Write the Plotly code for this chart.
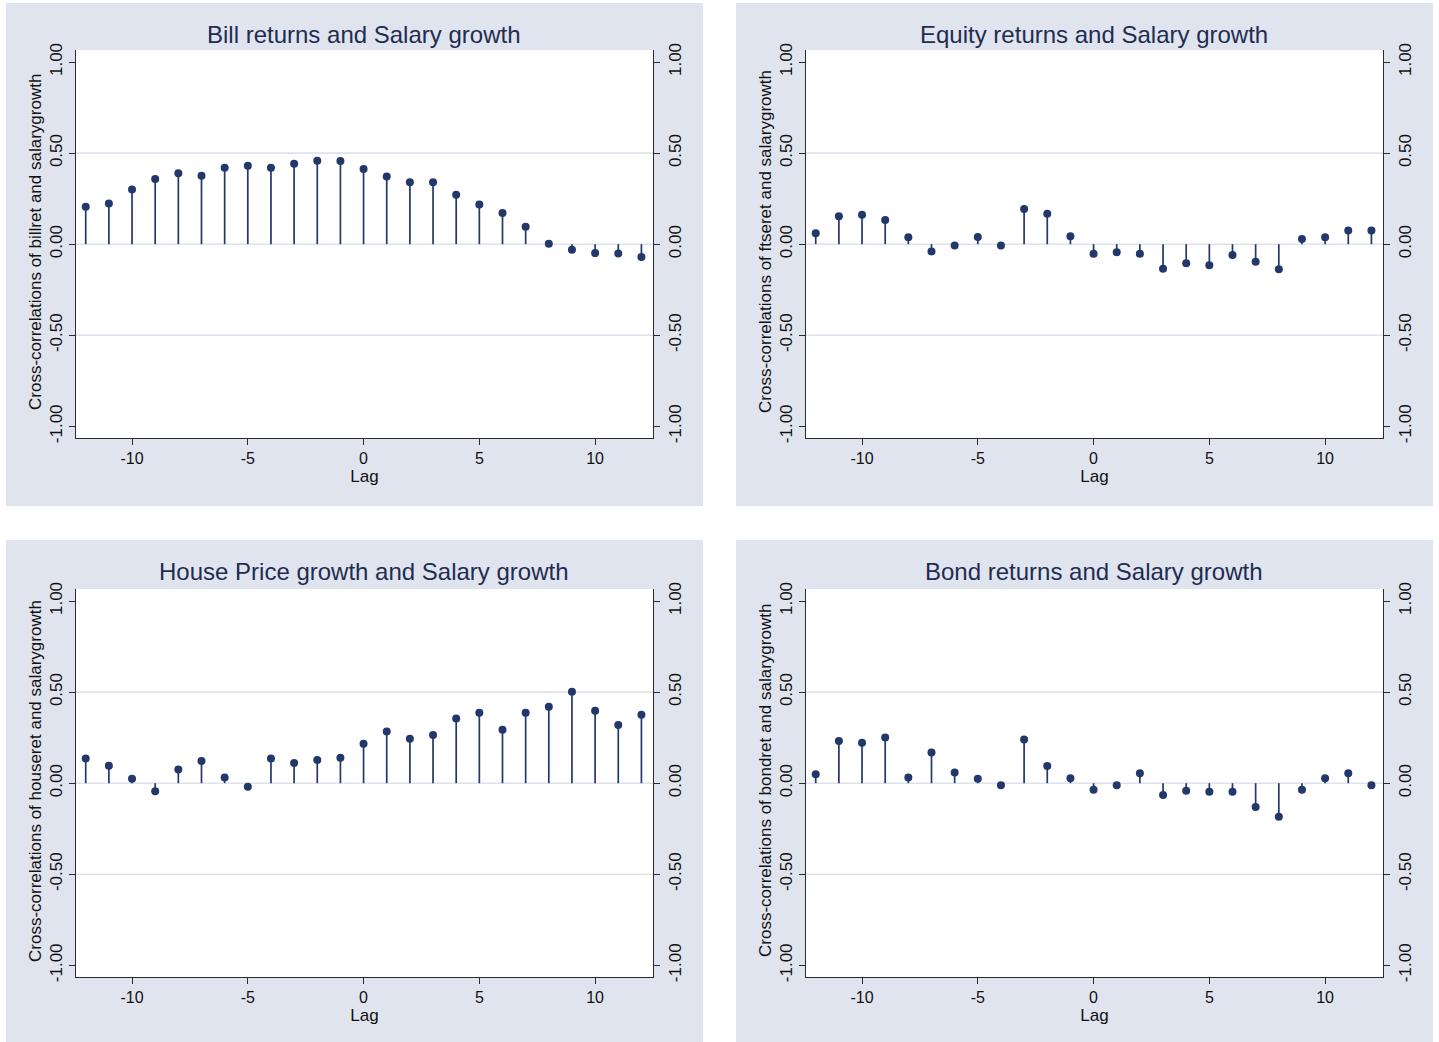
import plotly.graph_objects as go

# Cross-correlation lags
lags = list(range(-12, 13))

# Cross-correlations with salary growth, lag -12 .. 12
bill_corr = [0.205, 0.224, 0.300, 0.358, 0.389, 0.376, 0.420, 0.431, 0.420, 0.442,
             0.458, 0.456, 0.413, 0.371, 0.340, 0.340, 0.271, 0.218, 0.171, 0.096,
             0.002, -0.031, -0.049, -0.051, -0.071]
equity_corr = [0.060, 0.153, 0.162, 0.133, 0.038, -0.040, -0.007, 0.040, -0.007, 0.193,
               0.167, 0.044, -0.053, -0.044, -0.053, -0.135, -0.104, -0.116, -0.060, -0.096,
               -0.138, 0.029, 0.038, 0.075, 0.075]
house_corr = [0.135, 0.096, 0.024, -0.044, 0.075, 0.122, 0.031, -0.020, 0.136, 0.111,
              0.127, 0.140, 0.216, 0.284, 0.244, 0.265, 0.355, 0.387, 0.293, 0.387,
              0.420, 0.502, 0.398, 0.320, 0.376]
bond_corr = [0.049, 0.231, 0.222, 0.251, 0.031, 0.169, 0.058, 0.025, -0.011, 0.240,
             0.095, 0.027, -0.036, -0.011, 0.055, -0.065, -0.042, -0.047, -0.047, -0.131,
             -0.184, -0.036, 0.027, 0.055, -0.011]

panel_titles = ["Bill returns and Salary growth", "Equity returns and Salary growth",
                "House Price growth and Salary growth", "Bond returns and Salary growth"]
y_titles = ["Cross-correlations of billret and salarygrowth",
            "Cross-correlations of ftseret and salarygrowth",
            "Cross-correlations of houseret and salarygrowth",
            "Cross-correlations of bondret and salarygrowth"]
series = [bill_corr, equity_corr, house_corr, bond_corr]

y_ticks = [-1.0, -0.5, 0.0, 0.5, 1.0]
y_ticktext = ["-1.00", "-0.50", "0.00", "0.50", "1.00"]
x_ticks = [-10, -5, 0, 5, 10]
x_ticktext = ["-10", "-5", "0", "5", "10"]
grid_vals = [-0.5, 0.0, 0.5]

W, H = 1439, 1042
NAVY = "#22386a"
AXIS = "#2b2b2b"
PANEL_BG = "#e0e4ef"
GRID = "#dde2ee"
TXT = "#1f2d4f"
FONT = "Liberation Sans, Arial, sans-serif"


def px_x(x):
    return x / W


def px_y(y):
    return 1 - y / H


# panel boxes (pixels): background rect and plot area
panels = [
    dict(bg=(6, 3, 703, 506), plot=(76, 50, 653, 438)),
    dict(bg=(736, 3, 1433, 506), plot=(806, 50, 1383, 438)),
    dict(bg=(6, 540, 703, 1042), plot=(76, 589, 653, 977)),
    dict(bg=(736, 540, 1433, 1042), plot=(806, 589, 1383, 977)),
]

fig = go.Figure()
layout = dict(
    width=W, height=H,
    margin=dict(l=0, r=0, t=0, b=0, pad=0, autoexpand=False),
    paper_bgcolor="white", plot_bgcolor="white",
    showlegend=False,
    font=dict(family=FONT, size=16, color="#111"),
    shapes=[], annotations=[],
)

for i, (vals, title, ytitle, pnl) in enumerate(zip(series, panel_titles, y_titles, panels)):
    n = i + 1
    xa = f"x{n}" if n > 1 else "x"
    yl_idx = 2 * i + 1
    yr_idx = 2 * i + 2
    yl = f"y{yl_idx}" if yl_idx > 1 else "y"
    yr = f"y{yr_idx}"

    bx0, by0, bx1, by1 = pnl["bg"]
    px0, py0, px1, py1 = pnl["plot"]

    # graph region tint, then the white plot region on top of it
    layout["shapes"].append(dict(
        type="rect", xref="paper", yref="paper", layer="below",
        x0=px_x(bx0), x1=px_x(bx1), y0=px_y(by1), y1=px_y(by0),
        fillcolor=PANEL_BG, line=dict(width=0)))
    layout["shapes"].append(dict(
        type="rect", xref=f"{xa} domain", yref=f"{yl} domain", layer="below",
        x0=0, x1=1, y0=0, y1=1, fillcolor="white", line=dict(width=0)))

    for g in grid_vals:
        layout["shapes"].append(dict(
            type="line", xref=f"{xa} domain", yref=yl, layer="below",
            x0=0, x1=1, y0=g, y1=g, line=dict(color=GRID, width=1.6)))

    xkey = "xaxis" if n == 1 else f"xaxis{n}"
    ylkey = "yaxis" if yl_idx == 1 else f"yaxis{yl_idx}"
    yrkey = f"yaxis{yr_idx}"

    layout[xkey] = dict(
        domain=[px_x(px0), px_x(px1)], anchor=yl, range=[-12.42, 12.5],
        tickvals=x_ticks, ticktext=x_ticktext, ticks="outside", ticklen=6, tickcolor=AXIS,
        showline=True, linecolor=AXIS, linewidth=1.2, showgrid=False, zeroline=False,
        tickfont=dict(size=16, color="#111"), automargin=False,
        title=dict(text="Lag", font=dict(size=17, color="#111"), standoff=0),
    )
    common_y = dict(
        domain=[px_y(py1), px_y(py0)], anchor=xa, range=[-1.064, 1.066],
        tickvals=y_ticks, ticktext=y_ticktext, tickangle=-90,
        ticks="outside", ticklen=6, tickcolor=AXIS,
        showline=True, linecolor=AXIS, linewidth=1.2, showgrid=False, zeroline=False,
        tickfont=dict(size=17, color="#111"), automargin=False,
    )
    layout[ylkey] = dict(common_y, side="left")
    layout[yrkey] = dict(common_y, side="right", overlaying=yl)

    layout["annotations"].append(dict(
        text=title, xref="paper", yref="paper", showarrow=False,
        x=px_x((px0 + px1) / 2 - 1), y=px_y(by0 + 31),
        yanchor="middle", xanchor="center",
        font=dict(size=24, color=TXT, family=FONT)))
    layout["annotations"].append(dict(
        text=ytitle, xref="paper", yref="paper", showarrow=False, textangle=-90,
        x=px_x(px0 - 41), y=px_y((py0 + py1) / 2 - 2), xanchor="center", yanchor="middle",
        font=dict(size=17, color="#111", family=FONT)))

    # stems from zero to each correlation
    sx, sy = [], []
    for lag, v in zip(lags, vals):
        sx += [lag, lag, None]
        sy += [0, v, None]
    fig.add_trace(go.Scatter(x=sx, y=sy, mode="lines", xaxis=xa, yaxis=yl,
                             line=dict(color=NAVY, width=1.7), hoverinfo="skip"))
    fig.add_trace(go.Scatter(x=lags, y=vals, mode="markers", xaxis=xa, yaxis=yl,
                             marker=dict(color=NAVY, size=8)))
    # mirror scale on the right-hand side
    fig.add_trace(go.Scatter(x=lags, y=vals, mode="markers", xaxis=xa, yaxis=yr,
                             marker=dict(opacity=0), hoverinfo="skip"))

fig.update_layout(**layout)
fig.write_html("out.html")
